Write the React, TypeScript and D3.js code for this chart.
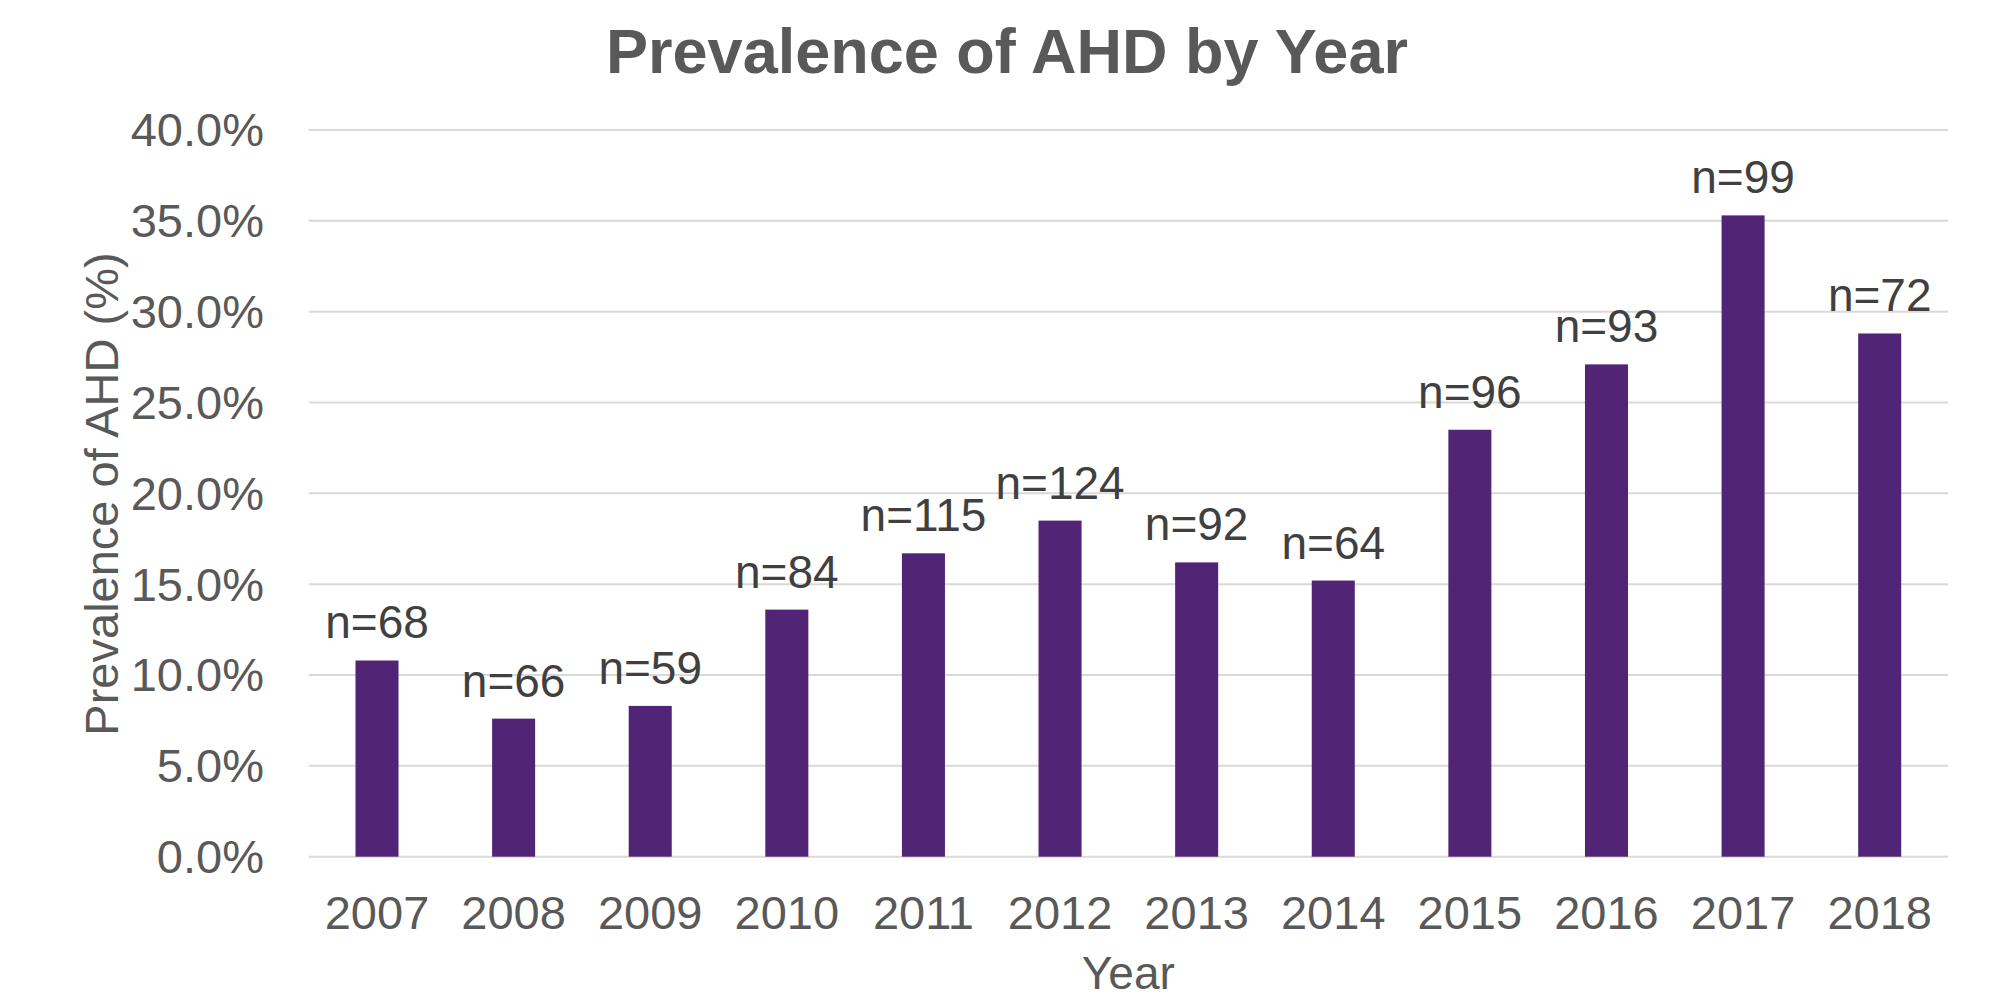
import React from "react";
import * as d3 from "d3";

// Prevalence of AHD (%) per year, with the sample size of each year
const years = ["2007", "2008", "2009", "2010", "2011", "2012", "2013", "2014", "2015", "2016", "2017", "2018"];
const prevalence = [10.8, 7.6, 8.3, 13.6, 16.7, 18.5, 16.2, 15.2, 23.5, 27.1, 35.3, 28.8];
const sampleSizes = [68, 66, 59, 84, 115, 124, 92, 64, 96, 93, 99, 72];
const yTicks = [0, 5, 10, 15, 20, 25, 30, 35, 40];

const WIDTH = 1989;
const HEIGHT = 994;
const PLOT = { left: 308.7, right: 1948, top: 130, bottom: 856.7 };
const FONT = "'Liberation Sans', Arial, Helvetica, sans-serif";
const BAR_COLOR = "#522476";
const GRID_COLOR = "#D9D9D9";
const AXIS_TEXT = "#595959";
const LABEL_TEXT = "#404040";

export default function App() {
  const x = d3
    .scaleBand<string>()
    .domain(years)
    .range([PLOT.left, PLOT.right])
    .paddingInner(0.685)
    .paddingOuter(0.3425);

  const y = d3.scaleLinear().domain([0, 40]).range([PLOT.bottom, PLOT.top]);

  const rows = years.map((year, i) => ({ year, value: prevalence[i], n: sampleSizes[i] }));

  return (
    <svg
      width={WIDTH}
      height={HEIGHT}
      viewBox={`0 0 ${WIDTH} ${HEIGHT}`}
      style={{ position: "absolute", left: 0, top: 0, background: "#ffffff" }}
      fontFamily={FONT}
    >
      <rect x={0} y={0} width={WIDTH} height={HEIGHT} fill="#ffffff" />

      {/* title */}
      <text x={1007} y={73} textAnchor="middle" fontSize={63} fontWeight="bold" fill={AXIS_TEXT}>
        Prevalence of AHD by Year
      </text>

      {/* horizontal gridlines and y tick labels */}
      {yTicks.map((t) => (
        <g key={t}>
          <line x1={PLOT.left} x2={PLOT.right} y1={y(t)} y2={y(t)} stroke={GRID_COLOR} strokeWidth={2} />
          <text x={264} y={y(t)} dy="0.35em" textAnchor="end" fontSize={47} fill={AXIS_TEXT}>
            {`${t.toFixed(1)}%`}
          </text>
        </g>
      ))}

      {/* bars with sample-size labels */}
      {rows.map((d) => {
        const bx = x(d.year) ?? 0;
        const cx = bx + x.bandwidth() / 2;
        return (
          <g key={d.year}>
            <rect x={bx} y={y(d.value)} width={x.bandwidth()} height={y(0) - y(d.value)} fill={BAR_COLOR} />
            <text x={cx} y={y(d.value) - 22} textAnchor="middle" fontSize={46} fill={LABEL_TEXT}>
              {`n=${d.n}`}
            </text>
            <text x={cx} y={929} textAnchor="middle" fontSize={47} fill={AXIS_TEXT}>
              {d.year}
            </text>
          </g>
        );
      })}

      {/* axis titles */}
      <text
        transform={`translate(118, 494) rotate(-90)`}
        textAnchor="middle"
        fontSize={47}
        fill={AXIS_TEXT}
      >
        Prevalence of AHD (%)
      </text>
      <text x={(PLOT.left + PLOT.right) / 2} y={989} textAnchor="middle" fontSize={46} fill={AXIS_TEXT}>
        Year
      </text>
    </svg>
  );
}
